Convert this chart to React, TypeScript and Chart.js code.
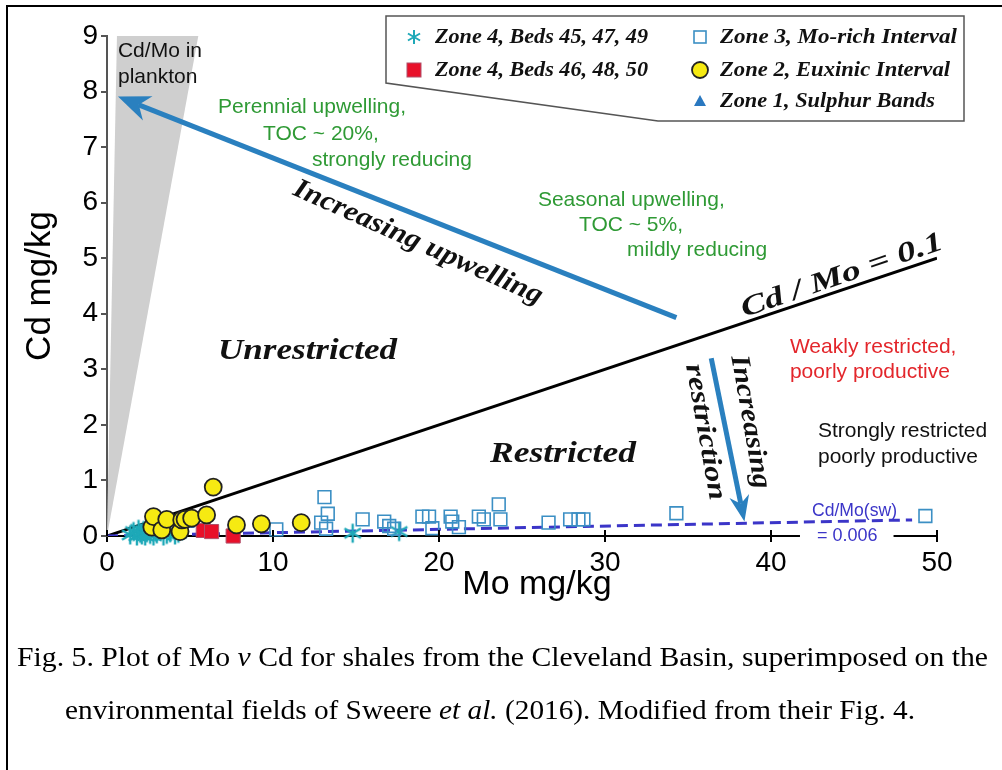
import React, { useEffect, useRef } from "react";
import { Chart, registerables } from "chart.js";

Chart.register(...registerables);

const SANS = '"Liberation Sans", Arial, sans-serif';
const SERIF = '"Liberation Serif", "Times New Roman", Times, serif';

// ---- axis ticks ----
const xTickValues = [0, 10, 20, 30, 40, 50];
const yTickValues = [0, 1, 2, 3, 4, 5, 6, 7, 8, 9];
const xTitle = "Mo mg/kg";
const yTitle = "Cd mg/kg";

// ---- data (Mo mg/kg, Cd mg/kg) ----
// Zone 4, Beds 45, 47, 49 (cyan asterisks)
const zone4aMo = [1.4, 1.6, 1.8, 1.9, 2.0, 2.1, 2.2, 2.3, 2.4, 2.5, 2.6, 2.8, 2.9, 3.0, 3.2, 3.4, 3.6, 3.8, 4.1, 4.3, 14.8, 17.6];
const zone4aCd = [0.02, 0.08, 0.0, 0.12, 0.05, 0.02, 0.1, 0.0, 0.06, 0.13, 0.03, 0.0, 0.08, 0.04, 0.1, 0.0, 0.03, 0.06, 0.02, 0.05, 0.05, 0.08];
// Zone 4, Beds 46, 48, 50 (red squares)
const zone4bMo = [5.8, 6.3, 7.6];
const zone4bCd = [0.1, 0.08, 0.0];
// Zone 3, Mo-rich Interval (open squares)
const zone3Mo = [10.2, 12.9, 13.1, 13.3, 13.2, 15.4, 16.7, 17.0, 17.3, 19.0, 19.4, 19.6, 20.7, 20.8, 21.2, 22.4, 22.7, 23.6, 23.7, 26.6, 27.9, 28.4, 28.7, 34.3, 49.3];
const zone3Cd = [0.12, 0.24, 0.7, 0.4, 0.13, 0.3, 0.26, 0.18, 0.13, 0.35, 0.35, 0.14, 0.35, 0.26, 0.16, 0.35, 0.3, 0.57, 0.3, 0.24, 0.3, 0.3, 0.3, 0.41, 0.36];
// Zone 2, Euxinic Interval (yellow circles)
const zone2Mo = [2.7, 2.8, 3.3, 3.6, 4.4, 4.5, 4.7, 5.1, 6.0, 6.4, 7.8, 9.3, 11.7];
const zone2Cd = [0.16, 0.35, 0.11, 0.3, 0.08, 0.29, 0.3, 0.32, 0.38, 0.88, 0.2, 0.22, 0.24];
// Zone 1, Sulphur Bands (blue triangles)
const zone1Mo = [3.0, 4.2, 5.0];
const zone1Cd = [0.05, 0.1, 0.2];

// ---- reference lines / fields ----
const ratioLineMo = [0, 50];
const ratioLineCd = [0, 5];
const swLineMo = [0, 48.5];
const swLineCd = [0, 0.29];
const planktonMo = [0, 0.6, 5.5];
const planktonCd = [0, 9, 9];
const upwellArrowMo = [34.3, 0.66];
const upwellArrowCd = [3.93, 7.91];
const restrictArrowMo = [36.4, 38.4];
const restrictArrowCd = [3.2, 0.26];

const legendLabels = [
  "Zone 4, Beds 45, 47, 49",
  "Zone 4, Beds 46, 48, 50",
  "Zone 3, Mo-rich Interval",
  "Zone 2, Euxinic Interval",
  "Zone 1, Sulphur Bands",
];

const captionLine1a = "Fig. 5. Plot of Mo ";
const captionLine1b = "v";
const captionLine1c = " Cd for shales from the Cleveland Basin, superimposed on the";
const captionLine2a = "environmental fields of Sweere ";
const captionLine2b = "et al.";
const captionLine2c = " (2016). Modified from their Fig. 4.";

const GREEN = "#2f9a35";
const RED = "#e3262b";
const SWBLUE = "#3b35c8";
const ARROW = "#2a80bf";

type Ann = {
  text: string; x: number; y: number; font: string; color: string;
  angle?: number; align?: "left" | "center"; width?: number;
};

const annotations: Ann[] = [
  { text: "Cd/Mo in", x: 0.66, y: 8.72, font: `21px ${SANS}`, color: "#111" },
  { text: "plankton", x: 0.66, y: 8.25, font: `21px ${SANS}`, color: "#111" },
  { text: "Perennial upwelling,", x: 6.69, y: 7.71, font: `21px ${SANS}`, color: GREEN },
  { text: "TOC ~ 20%,", x: 9.4, y: 7.24, font: `21px ${SANS}`, color: GREEN },
  { text: "strongly reducing", x: 12.35, y: 6.77, font: `21px ${SANS}`, color: GREEN },
  { text: "Seasonal upwelling,", x: 25.96, y: 6.05, font: `21px ${SANS}`, color: GREEN },
  { text: "TOC ~ 5%,", x: 28.43, y: 5.59, font: `21px ${SANS}`, color: GREEN },
  { text: "mildly reducing", x: 31.33, y: 5.14, font: `21px ${SANS}`, color: GREEN },
  { text: "Weakly restricted,", x: 41.14, y: 3.39, font: `21px ${SANS}`, color: RED },
  { text: "poorly productive", x: 41.14, y: 2.94, font: `21px ${SANS}`, color: RED },
  { text: "Strongly restricted", x: 42.83, y: 1.89, font: `21px ${SANS}`, color: "#111" },
  { text: "poorly productive", x: 42.83, y: 1.42, font: `21px ${SANS}`, color: "#111" },
  { text: "Cd/Mo(sw)", x: 42.47, y: 0.45, font: `18px ${SANS}`, color: SWBLUE, width: 85 },
  { text: "Increasing upwelling", x: 18.73, y: 5.28, font: `bold italic 28px ${SERIF}`, color: "#111", angle: 24, align: "center", width: 270 },
  { text: "Cd / Mo = 0.1", x: 44.28, y: 4.68, font: `bold italic 28px ${SERIF}`, color: "#111", angle: -19, align: "center", width: 212 },
  { text: "Unrestricted", x: 6.69, y: 3.32, font: `bold italic 29px ${SERIF}`, color: "#111", width: 179 },
  { text: "Restricted", x: 23.07, y: 1.46, font: `bold italic 29px ${SERIF}`, color: "#111", width: 146 },
  { text: "Increasing", x: 38.73, y: 2.05, font: `bold italic 27px ${SERIF}`, color: "#111", angle: 80, align: "center", width: 135 },
  { text: "restriction", x: 36.02, y: 1.87, font: `bold italic 27px ${SERIF}`, color: "#111", angle: 80, align: "center", width: 138 },
];

function pts(xs: number[], ys: number[]) {
  return xs.map((x, i) => ({ x, y: ys[i] }));
}

function drawText(ctx: CanvasRenderingContext2D, a: Ann, px: number, py: number) {
  ctx.save();
  ctx.translate(px, py);
  ctx.rotate(((a.angle || 0) * Math.PI) / 180);
  ctx.font = a.font;
  ctx.fillStyle = a.color;
  ctx.textBaseline = "middle";
  ctx.textAlign = "left";
  const w = ctx.measureText(a.text).width;
  const sx = a.width ? a.width / w : 1;
  ctx.scale(sx, 1);
  ctx.fillText(a.text, a.align === "center" ? -w / 2 : 0, 0);
  ctx.restore();
}

function drawArrow(ctx: CanvasRenderingContext2D, x1: number, y1: number, x2: number, y2: number, lw: number, hl: number, hw: number) {
  const a = Math.atan2(y2 - y1, x2 - x1);
  const c = Math.cos(a), s = Math.sin(a);
  const bx = x2 - hl * c, by = y2 - hl * s;
  const nx = x2 - hl * 0.7 * c, ny = y2 - hl * 0.7 * s;
  ctx.save();
  ctx.strokeStyle = ARROW;
  ctx.fillStyle = ARROW;
  ctx.lineWidth = lw;
  ctx.lineCap = "butt";
  ctx.beginPath();
  ctx.moveTo(x1, y1);
  ctx.lineTo(nx, ny);
  ctx.stroke();
  ctx.beginPath();
  ctx.moveTo(x2, y2);
  ctx.lineTo(bx - (hw / 2) * s, by + (hw / 2) * c);
  ctx.lineTo(nx, ny);
  ctx.lineTo(bx + (hw / 2) * s, by - (hw / 2) * c);
  ctx.closePath();
  ctx.fill();
  ctx.restore();
}

function drawMarker(ctx: CanvasRenderingContext2D, kind: string, x: number, y: number, r = 7, lw = 2) {
  ctx.save();
  if (kind === "star") {
    ctx.strokeStyle = "#1fa9b8";
    ctx.lineWidth = lw;
    ctx.beginPath();
    for (let k = 0; k < 3; k++) {
      const ang = Math.PI / 2 + (k * Math.PI) / 3;
      ctx.moveTo(x - r * Math.cos(ang), y - r * Math.sin(ang));
      ctx.lineTo(x + r * Math.cos(ang), y + r * Math.sin(ang));
    }
    ctx.stroke();
  } else if (kind === "red") {
    ctx.fillStyle = "#e8102a";
    ctx.fillRect(x - 7, y - 7, 14, 14);
    ctx.strokeStyle = "#b0506a";
    ctx.lineWidth = 1;
    ctx.strokeRect(x - 7, y - 7, 14, 14);
  } else if (kind === "open") {
    ctx.strokeStyle = "#3b8fc4";
    ctx.lineWidth = 1.6;
    ctx.strokeRect(x - 6, y - 6, 12, 12);
  } else if (kind === "circle") {
    ctx.fillStyle = "#f6ea12";
    ctx.strokeStyle = "#222";
    ctx.lineWidth = 1.8;
    ctx.beginPath();
    ctx.arc(x, y, 8, 0, Math.PI * 2);
    ctx.fill();
    ctx.stroke();
  } else if (kind === "tri") {
    ctx.fillStyle = "#2a78c0";
    ctx.beginPath();
    ctx.moveTo(x, y - 6);
    ctx.lineTo(x + 6, y + 5);
    ctx.lineTo(x - 6, y + 5);
    ctx.closePath();
    ctx.fill();
  }
  ctx.restore();
}

const decorPlugin = {
  id: "decor",
  beforeDatasetsDraw(chart: any) {
    const ctx = chart.ctx as CanvasRenderingContext2D;
    const xs = chart.scales.x, ys = chart.scales.y;
    ctx.save();
    ctx.fillStyle = "#cfcfcf";
    ctx.beginPath();
    planktonMo.forEach((m, i) => {
      const px = xs.getPixelForValue(m), py = ys.getPixelForValue(planktonCd[i]);
      if (i === 0) ctx.moveTo(px, py); else ctx.lineTo(px, py);
    });
    ctx.closePath();
    ctx.fill();
    ctx.restore();
  },
  afterDatasetsDraw(chart: any) {
    const ctx = chart.ctx as CanvasRenderingContext2D;
    const xs = chart.scales.x, ys = chart.scales.y;
    drawArrow(ctx,
      xs.getPixelForValue(upwellArrowMo[0]), ys.getPixelForValue(upwellArrowCd[0]),
      xs.getPixelForValue(upwellArrowMo[1]), ys.getPixelForValue(upwellArrowCd[1]), 5, 32, 26);
    drawArrow(ctx,
      xs.getPixelForValue(restrictArrowMo[0]), ys.getPixelForValue(restrictArrowCd[0]),
      xs.getPixelForValue(restrictArrowMo[1]), ys.getPixelForValue(restrictArrowCd[1]), 5, 26, 20);
  },
  afterDraw(chart: any) {
    const ctx = chart.ctx as CanvasRenderingContext2D;
    const xs = chart.scales.x, ys = chart.scales.y;
    const area = chart.chartArea;

    // inner tick halves on x axis
    ctx.save();
    ctx.strokeStyle = "#000";
    ctx.lineWidth = 2;
    xTickValues.forEach((v) => {
      const px = xs.getPixelForValue(v);
      ctx.beginPath();
      ctx.moveTo(px, area.bottom);
      ctx.lineTo(px, area.bottom - 6);
      ctx.stroke();
    });
    ctx.restore();

    // x axis title (slightly right of centre, as in the figure)
    ctx.save();
    ctx.font = `34px ${SANS}`;
    ctx.fillStyle = "#000";
    ctx.textAlign = "center";
    ctx.textBaseline = "middle";
    ctx.fillText(xTitle, xs.getPixelForValue(25.9), area.bottom + 49);
    ctx.restore();

    // gap in x axis with "= 0.006"
    ctx.save();
    ctx.font = `18px ${SANS}`;
    const eqText = "= 0.006";
    const ex = xs.getPixelForValue(42.77);
    const ew = ctx.measureText(eqText).width;
    ctx.fillStyle = "#fff";
    ctx.fillRect(ex - 17, area.bottom - 3, ew + 33, 6);
    ctx.fillStyle = SWBLUE;
    ctx.textBaseline = "middle";
    ctx.fillText(eqText, ex, area.bottom);
    ctx.restore();

    annotations.forEach((a) => drawText(ctx, a, xs.getPixelForValue(a.x), ys.getPixelForValue(a.y)));

    // legend box with callout
    ctx.save();
    ctx.strokeStyle = "#555";
    ctx.lineWidth = 1.5;
    ctx.fillStyle = "#fff";
    ctx.beginPath();
    ctx.moveTo(386, 16);
    ctx.lineTo(964, 16);
    ctx.lineTo(964, 121);
    ctx.lineTo(658, 121);
    ctx.lineTo(386, 83);
    ctx.closePath();
    ctx.fill();
    ctx.stroke();
    ctx.restore();

    const legendPos = [
      { kind: "star", mx: 414, tx: 435, y: 37, w: 213 },
      { kind: "red", mx: 414, tx: 435, y: 70, w: 213 },
      { kind: "open", mx: 700, tx: 720, y: 37, w: 237 },
      { kind: "circle", mx: 700, tx: 720, y: 70, w: 230 },
      { kind: "tri", mx: 700, tx: 720, y: 101, w: 215 },
    ];
    legendPos.forEach((p, i) => {
      drawMarker(ctx, p.kind, p.mx, p.y);
      ctx.save();
      ctx.font = `bold italic 22px ${SERIF}`;
      ctx.fillStyle = "#111";
      ctx.textBaseline = "middle";
      const w = ctx.measureText(legendLabels[i]).width;
      ctx.translate(p.tx, p.y);
      ctx.scale(p.w / w, 1);
      ctx.fillText(legendLabels[i], 0, 0);
      ctx.restore();
    });

    // outer frame
    ctx.save();
    ctx.strokeStyle = "#000";
    ctx.lineWidth = 2;
    ctx.beginPath();
    ctx.moveTo(1002, 6);
    ctx.lineTo(7, 6);
    ctx.lineTo(7, 770);
    ctx.stroke();
    ctx.restore();
  },
};

export default function App() {
  const canvasRef = useRef<HTMLCanvasElement | null>(null);
  const line1Ref = useRef<HTMLDivElement | null>(null);
  const line2Ref = useRef<HTMLDivElement | null>(null);

  useEffect(() => {
    document.body.style.margin = "0";
    const canvas = canvasRef.current;
    if (!canvas) return;
    const starStyle = (() => {
      const c = document.createElement("canvas");
      c.width = 22; c.height = 22;
      const g = c.getContext("2d")!;
      drawMarker(g, "star", 11, 11, 9.5, 2.4);
      return c;
    })();

    const chart = new Chart(canvas, {
      type: "scatter",
      data: {
        datasets: [
          {
            label: "Cd/Mo = 0.1",
            data: pts(ratioLineMo, ratioLineCd),
            showLine: true,
            borderColor: "#000",
            borderWidth: 3,
            pointRadius: 0,
            order: 10,
          } as any,
          {
            label: "Cd/Mo(sw) = 0.006",
            data: pts(swLineMo, swLineCd),
            showLine: true,
            borderColor: SWBLUE,
            borderWidth: 3,
            borderDash: [11, 6],
            pointRadius: 0,
            order: 9,
          } as any,
          {
            label: legendLabels[0],
            data: pts(zone4aMo, zone4aCd),
            pointStyle: starStyle,
            pointRadius: 10,
            clip: false,
            order: 5,
          } as any,
          {
            label: legendLabels[4],
            data: pts(zone1Mo, zone1Cd),
            pointStyle: "triangle",
            pointRadius: 5,
            backgroundColor: "#2a78c0",
            borderColor: "#2a78c0",
            clip: false,
            order: 4,
          } as any,
          {
            label: legendLabels[2],
            data: pts(zone3Mo, zone3Cd),
            pointStyle: "rect",
            pointRadius: 9,
            backgroundColor: "rgba(255,255,255,0)",
            borderColor: "#3b8fc4",
            borderWidth: 1.6,
            clip: false,
            order: 3,
          } as any,
          {
            label: legendLabels[1],
            data: pts(zone4bMo, zone4bCd),
            pointStyle: "rect",
            pointRadius: 10,
            backgroundColor: "#e8102a",
            borderColor: "#b0506a",
            borderWidth: 1,
            clip: false,
            order: 2,
          } as any,
          {
            label: legendLabels[3],
            data: pts(zone2Mo, zone2Cd),
            pointStyle: "circle",
            pointRadius: 8.5,
            backgroundColor: "#f6ea12",
            borderColor: "#222",
            borderWidth: 1.8,
            clip: false,
            order: 1,
          } as any,
        ],
      },
      options: {
        animation: false,
        responsive: false,
        maintainAspectRatio: false,
        events: [],
        layout: { padding: { left: 0, top: 36, right: 65, bottom: 0 } },
        plugins: { legend: { display: false }, tooltip: { enabled: false } },
        scales: {
          x: {
            type: "linear",
            min: 0,
            max: 50,
            afterBuildTicks: (s: any) => { s.ticks = xTickValues.map((v) => ({ value: v })); },
            afterFit: (s: any) => { s.height = 234; },
            ticks: { font: { family: SANS, size: 28 }, color: "#000", padding: 4, maxRotation: 0, autoSkip: false },
            grid: { drawOnChartArea: false, drawTicks: true, tickLength: 6, color: "#000", lineWidth: 2 },
            border: { display: true, color: "#000", width: 2 },
            title: { display: false },
          },
          y: {
            type: "linear",
            min: 0,
            max: 9,
            afterBuildTicks: (s: any) => { s.ticks = yTickValues.map((v) => ({ value: v })); },
            afterFit: (s: any) => { s.width = 107; },
            ticks: { font: { family: SANS, size: 28 }, color: "#000", padding: 3, autoSkip: false },
            grid: { drawOnChartArea: false, drawTicks: true, tickLength: 6, color: "#555", lineWidth: 2 },
            border: { display: true, color: "#555", width: 2 },
            title: { display: true, text: yTitle, color: "#000", font: { family: SANS, size: 35 }, padding: { top: 19, bottom: 0 } },
          },
        },
      } as any,
      plugins: [decorPlugin as any],
    });

    // fit caption lines to their measured widths in the reference
    const fit = (el: HTMLDivElement | null, target: number) => {
      if (!el) return;
      el.style.transform = "none";
      const w = el.getBoundingClientRect().width;
      if (w > 0) el.style.transform = `scaleX(${target / w})`;
    };
    fit(line1Ref.current, 971);
    fit(line2Ref.current, 850);

    return () => chart.destroy();
  }, []);

  const capStyle: React.CSSProperties = {
    position: "absolute",
    whiteSpace: "nowrap",
    fontFamily: SERIF,
    fontSize: 28,
    lineHeight: "28px",
    color: "#000",
    transformOrigin: "0 0",
    display: "inline-block",
  };

  return (
    <div style={{ position: "absolute", left: 0, top: 0, width: 1002, height: 770, background: "#fff", overflow: "hidden" }}>
      <canvas ref={canvasRef} width={1002} height={770} style={{ position: "absolute", left: 0, top: 0, width: 1002, height: 770 }} />
      <div ref={line1Ref} style={{ ...capStyle, left: 17, top: 643 }}>
        {captionLine1a}<i>{captionLine1b}</i>{captionLine1c}
      </div>
      <div ref={line2Ref} style={{ ...capStyle, left: 65, top: 696 }}>
        {captionLine2a}<i>{captionLine2b}</i>{captionLine2c}
      </div>
    </div>
  );
}
